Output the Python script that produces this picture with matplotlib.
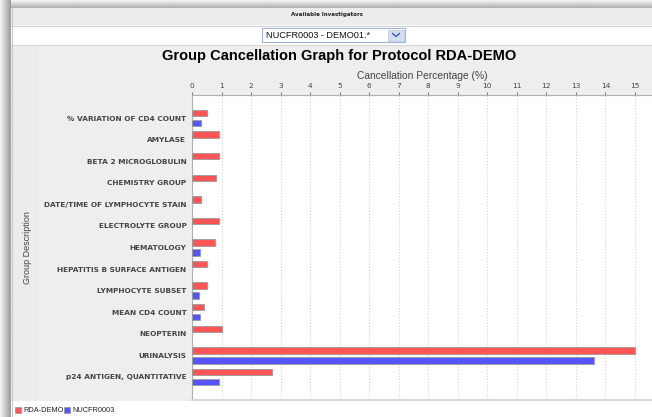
import numpy as np
import matplotlib
matplotlib.use('Agg')
import matplotlib.pyplot as plt
from matplotlib.patches import Rectangle

# Datos del gráfico
categorias = ['% VARIATION OF CD4 COUNT', 'AMYLASE', 'BETA 2 MICROGLOBULIN', 'CHEMISTRY GROUP',
              'DATE/TIME OF LYMPHOCYTE STAIN', 'ELECTROLYTE GROUP', 'HEMATOLOGY',
              'HEPATITIS B SURFACE ANTIGEN', 'LYMPHOCYTE SUBSET', 'MEAN CD4 COUNT',
              'NEOPTERIN', 'URINALYSIS', 'p24 ANTIGEN, QUANTITATIVE']
rda_demo = [0.52, 0.9, 0.9, 0.81, 0.3, 0.9, 0.78, 0.52, 0.5, 0.4, 1.02, 15.0, 2.7]
nucfr0003 = [0.3, 0, 0, 0, 0, 0, 0.27, 0, 0.25, 0.27, 0, 13.6, 0.9]
series_names = ['RDA-DEMO', 'NUCFR0003']
x_ticks = list(range(0, 16))

W, H = 652, 417
ROJO = '#ff5555'
AZUL = '#5555ff'

fig = plt.figure(figsize=(W / 100, H / 100), dpi=100)
fig.patch.set_facecolor('white')

# Fondo en coordenadas de pixel (marco, cabecera, desplegable, leyenda)
bg = fig.add_axes([0, 0, 1, 1], zorder=-1)
bg.axis('off')

# Sombra izquierda y superior
sombra_x = np.linspace(0.95, 0.62, 11).reshape(1, -1)
bg.imshow(np.repeat(sombra_x, 2, axis=0), cmap='gray', vmin=0, vmax=1,
          extent=(0, 11, H, 0), aspect='auto', interpolation='bilinear')
sombra_y = np.linspace(0.95, 0.7, 8).reshape(-1, 1)
bg.imshow(np.repeat(sombra_y, 2, axis=1), cmap='gray', vmin=0, vmax=1,
          extent=(11, W, 8, 0), aspect='auto', interpolation='bilinear')
bg.set_xlim(0, W)
bg.set_ylim(H, 0)

# Cabecera "Available Investigators"
bg.add_patch(Rectangle((11, 8), W - 11, 17, facecolor='#ececec', edgecolor='none'))
bg.plot([11, W], [25.5, 25.5], color='#d0d0d0', lw=0.8)
bg.add_patch(Rectangle((11, 26), W - 11, 18, facecolor='white', edgecolor='none'))
bg.plot([11, W], [44.5, 44.5], color='#d6d6d6', lw=0.8)
bg.text(327, 14, 'Available Investigators', fontsize=4, fontweight='bold',
        ha='center', va='center', color='#222222')

# Desplegable
bg.add_patch(Rectangle((262, 28), 143, 14, facecolor='white', edgecolor='#9fb4d6', lw=0.8))
bg.add_patch(Rectangle((388, 29.5), 16, 11, facecolor='#d3def0', edgecolor='#b7c6e0', lw=0.5))
bg.plot([392.5, 396, 399.5], [33.5, 36.5, 33.5], color='#3a5fa8', lw=1.0)
bg.text(266, 35.5, 'NUCFR0003 - DEMO01.*', fontsize=6.6, family='Liberation Sans',
        ha='left', va='center', color='#111111')

# Panel gris del gráfico
bg.add_patch(Rectangle((11, 45), W - 11, 356, facecolor='#eeeeee', edgecolor='none'))
bg.add_patch(Rectangle((11, 45), 27, 356, facecolor='#ececec', edgecolor='none'))
bg.plot([11.5, 11.5], [8, H], color='#c8c8c8', lw=0.8)

# Título
bg.text(339, 56, 'Group Cancellation Graph for Protocol RDA-DEMO', fontsize=10.5,
        fontweight='bold', family='Liberation Sans', ha='center', va='center', color='black')

# Leyenda
leyenda = [(15, ROJO, series_names[0]), (64, AZUL, series_names[1])]
for x0, col, nombre in leyenda:
    bg.add_patch(Rectangle((x0, 407), 6, 6, facecolor=col, edgecolor='#888888', lw=0.4))
    bg.text(x0 + 8, 410.5, nombre, fontsize=5.3, family='Liberation Sans',
            ha='left', va='center', color='#222222')

# Ejes principales
left, right, top, bottom = 192, 652, 95, 400
ax = fig.add_axes([left / W, (H - bottom) / H, (right - left) / W, (bottom - top) / H])
ax.set_facecolor('white')

y = np.arange(len(categorias))
off, alto = 0.23, 0.3
for i in range(len(categorias)):
    if rda_demo[i] > 0:
        ax.barh(y[i] - off, rda_demo[i], height=alto, color=ROJO, edgecolor='#9a9a9a', lw=0.6, zorder=3)
    if nucfr0003[i] > 0:
        ax.barh(y[i] + off, nucfr0003[i], height=alto, color=AZUL, edgecolor='#9a9a9a', lw=0.6, zorder=3)

ax.set_xlim(0, (right - left) / 29.53)
ax.set_ylim(len(categorias) - 1 + 1.07, -1.07)

ax.xaxis.tick_top()
ax.xaxis.set_label_position('top')
ax.set_xticks(x_ticks)
ax.set_xticklabels([str(t) for t in x_ticks])
ax.tick_params(axis='x', labelsize=5.3, colors='#444444', length=2, width=0.5, pad=2)
ax.set_xlabel('Cancellation Percentage (%)', fontsize=7.4, family='Liberation Sans',
              color='#444444', labelpad=3)

ax.set_yticks(y)
ax.set_yticklabels(categorias, fontweight='bold')
ax.tick_params(axis='y', labelsize=5.3, colors='#444444', length=0, pad=4)
ax.set_ylabel('Group Description', fontsize=6.5, family='Liberation Sans', color='#444444')
ax.yaxis.set_label_coords((32 - left) / (right - left), 0.5)

ax.grid(axis='x', linestyle=':', color='#d4d4d4', lw=0.8, zorder=0)
ax.set_axisbelow(True)
for lado in ['top', 'left']:
    ax.spines[lado].set_color('#b0b0b0')
    ax.spines[lado].set_linewidth(0.8)
ax.spines['bottom'].set_color('#d0d0d0')
ax.spines['bottom'].set_linewidth(1.2)
ax.spines['right'].set_visible(False)

fig.savefig('out.png', dpi=100)
